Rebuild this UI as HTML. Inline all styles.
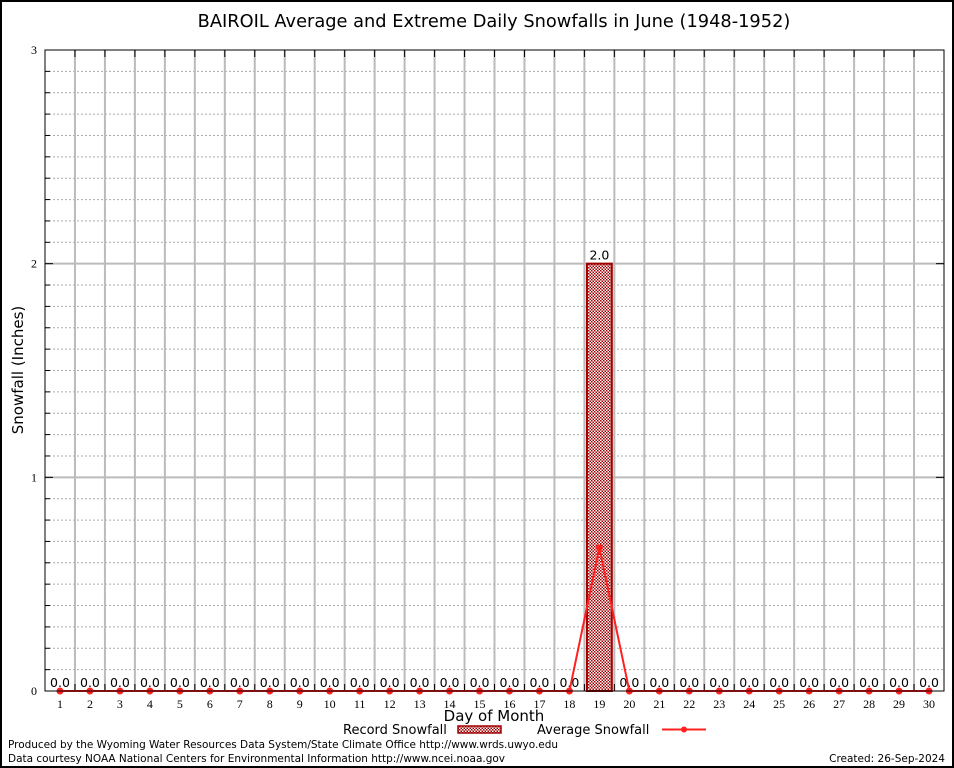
<!DOCTYPE html>
<html><head><meta charset="utf-8"><style>
html,body{margin:0;padding:0;background:#fff;}
svg{display:block;font-family:"DejaVu Sans","Liberation Sans",sans-serif;}
</style></head><body>
<svg id="chart" width="954" height="768" viewBox="0 0 954 768">
<defs>
<pattern id="chk" width="3" height="3" patternUnits="userSpaceOnUse">
<rect width="3" height="3" fill="#fff"/><rect width="1.5" height="1.5" fill="#a00000"/><rect x="1.5" y="1.5" width="1.5" height="1.5" fill="#a00000"/>
</pattern>
</defs>
<rect x="1" y="1" width="952" height="766" fill="#fff" stroke="#000" stroke-width="2"/>
<text x="494" y="27" font-size="17.8" text-anchor="middle">BAIROIL Average and Extreme Daily Snowfalls in June (1948-1952)</text>
<g id="grid"></g>
<g id="marks"></g>
<rect x="45" y="50" width="899" height="641" fill="none" stroke="#000" stroke-width="1"/>
<text transform="translate(23,370) rotate(-90)" font-size="15" text-anchor="middle">Snowfall (Inches)</text>
<text x="494" y="721" font-size="15" text-anchor="middle">Day of Month</text>
<g>
<text x="343" y="734" font-size="13">Record Snowfall</text>
<rect x="458" y="726" width="43" height="7" fill="url(#chk)" stroke="#a00000" stroke-width="1.5"/>
<text x="537" y="734" font-size="13">Average Snowfall</text>
<line x1="662" y1="729.5" x2="706" y2="729.5" stroke="#ff2020" stroke-width="2"/>
<circle cx="684" cy="729.5" r="3" fill="#ff2020"/>
</g>
<text x="8" y="748" font-size="10.5" textLength="550">Produced by the Wyoming Water Resources Data System/State Climate Office http://www.wrds.uwyo.edu</text>
<text x="8" y="762" font-size="10.5" textLength="497">Data courtesy NOAA National Centers for Environmental Information http://www.ncei.noaa.gov</text>
<text x="945" y="762" font-size="10.5" text-anchor="end">Created:  26-Sep-2024</text>
</svg>
<script>
const days = [1,2,3,4,5,6,7,8,9,10,11,12,13,14,15,16,17,18,19,20,21,22,23,24,25,26,27,28,29,30];
const recordSnow = [0,0,0,0,0,0,0,0,0,0,0,0,0,0,0,0,0,0,2.0,0,0,0,0,0,0,0,0,0,0,0];
const avgSnow = [0,0,0,0,0,0,0,0,0,0,0,0,0,0,0,0,0,0,0.67,0,0,0,0,0,0,0,0,0,0,0];
const yTicks = [0,1,2,3];
const NS="http://www.w3.org/2000/svg";
const L=45,R=944,T=50,B=691,YMAX=3;
const xs=d=>L+(d-0.5)*(R-L)/days.length;
const ys=v=>B-v*(B-T)/YMAX;
const grid=document.getElementById('grid'), marks=document.getElementById('marks');
function mk(tag,attrs,parent){const e=document.createElementNS(NS,tag);for(const k in attrs)e.setAttribute(k,attrs[k]);parent.appendChild(e);return e;}
for(let i=1;i<YMAX*10;i++){ if(i%10===0) continue;
  const y=ys(i/10);
  const l=mk('line',{x1:L,x2:R,y1:y,y2:y,stroke:'#aaa','stroke-dasharray':'2,2','stroke-width':1},grid);
  
  
  mk('line',{x1:L,x2:L+5,y1:y,y2:y,stroke:'#000'},grid);
}
yTicks.forEach(v=>{const y=ys(v);
  if(v>0&&v<YMAX){const l=mk('line',{x1:L,x2:R,y1:y,y2:y,stroke:'#bbb','stroke-width':2},grid);
  
  
  mk('line',{x1:L,x2:L+8,y1:y,y2:y,stroke:'#000'},grid);
  mk('line',{x1:R-8,x2:R,y1:y,y2:y,stroke:'#000'},grid);}
  const t=mk('text',{x:L-8,y:y+4,'font-size':12,'text-anchor':'end','font-family':'Liberation Serif, serif'},grid);
  t.textContent=v;
  
  
});
days.forEach((d,i)=>{
  const xb=L+(i+1)*(R-L)/days.length;
  if(i<days.length-1){const g=mk('line',{x1:xb,x2:xb,y1:T,y2:B,stroke:'#bbb','stroke-width':2},grid);
    
    
    mk('line',{x1:xb,x2:xb,y1:T,y2:T+7,stroke:'#000'},grid);
    mk('line',{x1:xb,x2:xb,y1:B-7,y2:B,stroke:'#000'},grid);}
  const t=mk('text',{x:xs(d),y:B+17,'font-size':12,'text-anchor':'middle','font-family':'Liberation Serif, serif'},grid);
  t.textContent=d;
  
  
});
const bw=(R-L)/days.length*0.83;
recordSnow.forEach((v,i)=>{
  const x=xs(days[i]);
  if(v>0){const b=mk('rect',{x:x-bw/2,y:ys(v),width:bw,height:B-ys(v),fill:'url(#chk)',stroke:'#a00000','stroke-width':2},marks);
    
    }
  const t=mk('text',{x:x,y:ys(v)-4,'font-size':12.5,'text-anchor':'middle'},marks);
  t.textContent=v.toFixed(1);
  
  
});
const pts=avgSnow.map((v,i)=>xs(days[i])+','+ys(v)).join(' ');
const pl=mk('polyline',{points:pts,fill:'none',stroke:'#ff2020','stroke-width':2},marks);


avgSnow.forEach((v,i)=>{
  const c=mk('circle',{cx:xs(days[i]),cy:ys(v),r:3.5,fill:'#ff2020'},marks);
  
  
});
</script>
</body></html>
